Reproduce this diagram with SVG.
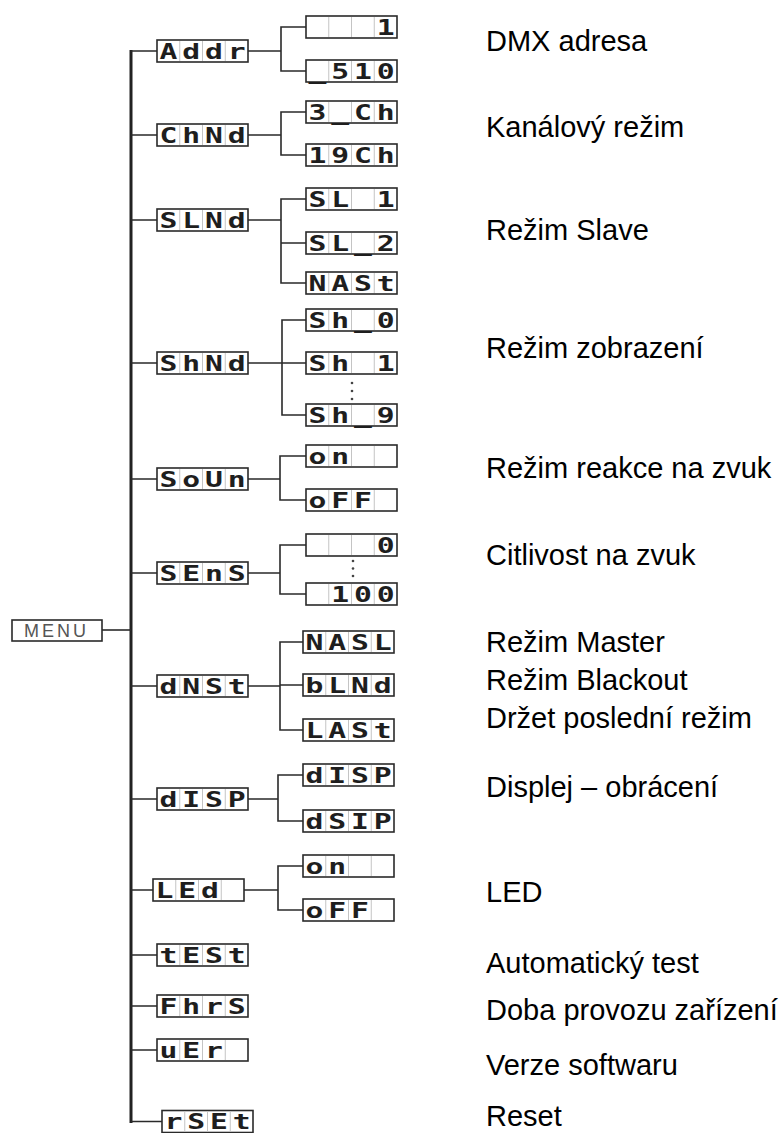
<svg xmlns="http://www.w3.org/2000/svg" xmlns:xlink="http://www.w3.org/1999/xlink" width="782" height="1133" viewBox="0 0 782 1133">
<style>
.box{fill:#fff;stroke:#2a2a2a;stroke-width:1.6}
.dv{stroke:#c4c4c4;stroke-width:1}
.seg{font-family:"DejaVu Sans Mono","Liberation Mono",monospace;font-weight:bold;font-size:22px;fill:#1e1e1e;text-anchor:middle}
.desc{font-family:"Liberation Sans",Arial,sans-serif;font-size:29px;fill:#000}
.menu{font-family:"Liberation Sans",Arial,sans-serif;font-size:18px;fill:#555;letter-spacing:3px}
.w{stroke:#2a2a2a;stroke-width:1.6;fill:none}
.bus{stroke:#222;stroke-width:3;fill:none}
.dot{fill:#444}
</style>
<defs>
<g id="cell4">
<rect class="box" x="0" y="-11" width="91" height="22"/>
<line class="dv" x1="22.75" y1="-10" x2="22.75" y2="10"/>
<line class="dv" x1="45.5" y1="-10" x2="45.5" y2="10"/>
<line class="dv" x1="68.25" y1="-10" x2="68.25" y2="10"/>
</g>
</defs>
<rect width="782" height="1133" fill="#fff"/>

<g id="connectors">
<line class="bus" x1="131" y1="50" x2="131" y2="1123"/>
<path class="w" d="M102 630H131"/>
<path class="w" d="M131 51H157M131 135H157M131 220H157M131 363H157M131 479H157M131 573H157M131 686H157M131 799H157M131 890H153M131 955H157M131 1006H157M131 1050H157M131 1121.5H162"/>
<path class="w" d="M248 51H281M306 27H281V71H306"/>
<path class="w" d="M248 135H281M306 112H281V155H306"/>
<path class="w" d="M248 220H281M306 199H281V283H306M281 243H306"/>
<path class="w" d="M248 363H282M306 320H282V415H306M282 363H306"/>
<path class="w" d="M248 479H280M306 456H280V500H306"/>
<path class="w" d="M248 573H280M306 545H280V594H306"/>
<path class="w" d="M248 686H280M303 642H280V730H303M280 685H303"/>
<path class="w" d="M248 799H278M303 775H278V821H303"/>
<path class="w" d="M244 890H278M303 866H278V910H303"/>
</g>

<g id="menu">
<rect class="box" x="12" y="620" width="90" height="21"/>
<text class="menu" x="24" y="637">MENU</text>
</g>

<g id="n-addr"><use xlink:href="#cell4" x="157" y="51"/><text class="seg" transform="matrix(1.35 0 0 1 157 0)" x="8.4 25.3 42.1 59" y="59">Addr</text></g>
<g id="n-chnd"><use xlink:href="#cell4" x="157" y="135"/><text class="seg" transform="matrix(1.35 0 0 1 157 0)" x="8.4 25.3 42.1 59" y="143">ChNd</text></g>
<g id="n-slnd"><use xlink:href="#cell4" x="157" y="220"/><text class="seg" transform="matrix(1.35 0 0 1 157 0)" x="8.4 25.3 42.1 59" y="228">SLNd</text></g>
<g id="n-shnd"><use xlink:href="#cell4" x="157" y="363"/><text class="seg" transform="matrix(1.35 0 0 1 157 0)" x="8.4 25.3 42.1 59" y="371">ShNd</text></g>
<g id="n-soun"><use xlink:href="#cell4" x="157" y="479"/><text class="seg" transform="matrix(1.35 0 0 1 157 0)" x="8.4 25.3 42.1 59" y="487">SoUn</text></g>
<g id="n-sens"><use xlink:href="#cell4" x="157" y="573"/><text class="seg" transform="matrix(1.35 0 0 1 157 0)" x="8.4 25.3 42.1 59" y="581">SEnS</text></g>
<g id="n-dnst"><use xlink:href="#cell4" x="157" y="686"/><text class="seg" transform="matrix(1.35 0 0 1 157 0)" x="8.4 25.3 42.1 59" y="694">dNSt</text></g>
<g id="n-disp"><use xlink:href="#cell4" x="157" y="799"/><text class="seg" transform="matrix(1.35 0 0 1 157 0)" x="8.4 25.3 42.1 59" y="807">dISP</text></g>
<g id="n-led"><use xlink:href="#cell4" x="153" y="890"/><text class="seg" transform="matrix(1.35 0 0 1 153 0)" x="8.4 25.3 42.1" y="898">LEd</text></g>
<g id="n-test"><use xlink:href="#cell4" x="157" y="955"/><text class="seg" transform="matrix(1.35 0 0 1 157 0)" x="8.4 25.3 42.1 59" y="963">tESt</text></g>
<g id="n-fhrs"><use xlink:href="#cell4" x="157" y="1006"/><text class="seg" transform="matrix(1.35 0 0 1 157 0)" x="8.4 25.3 42.1 59" y="1014">FhrS</text></g>
<g id="n-uer"><use xlink:href="#cell4" x="157" y="1050"/><text class="seg" transform="matrix(1.35 0 0 1 157 0)" x="8.4 25.3 42.1" y="1058">uEr</text></g>
<g id="n-rset"><use xlink:href="#cell4" x="162" y="1121.5"/><text class="seg" transform="matrix(1.35 0 0 1 162 0)" x="8.4 25.3 42.1 59" y="1129.5">rSEt</text></g>

<g id="s-addr-1"><use xlink:href="#cell4" x="306" y="27"/><text class="seg" transform="matrix(1.35 0 0 1 306 0)" x="59" y="35">1</text></g>
<g id="s-addr-510"><use xlink:href="#cell4" x="306" y="71"/><text class="seg" transform="matrix(1.35 0 0 1 306 0)" x="8.4 25.3 42.1 59" y="79">_510</text></g>
<g id="s-3ch"><use xlink:href="#cell4" x="306" y="112"/><text class="seg" transform="matrix(1.35 0 0 1 306 0)" x="8.4 25.3 42.1 59" y="120">3_Ch</text></g>
<g id="s-19ch"><use xlink:href="#cell4" x="306" y="155"/><text class="seg" transform="matrix(1.35 0 0 1 306 0)" x="8.4 25.3 42.1 59" y="163">19Ch</text></g>
<g id="s-sl1"><use xlink:href="#cell4" x="306" y="199"/><text class="seg" transform="matrix(1.35 0 0 1 306 0)" x="8.4 25.3 59" y="207">SL1</text></g>
<g id="s-sl2"><use xlink:href="#cell4" x="306" y="243"/><text class="seg" transform="matrix(1.35 0 0 1 306 0)" x="8.4 25.3 42.1 59" y="251">SL_2</text></g>
<g id="s-nast"><use xlink:href="#cell4" x="306" y="283"/><text class="seg" transform="matrix(1.35 0 0 1 306 0)" x="8.4 25.3 42.1 59" y="291">NASt</text></g>
<g id="s-sh0"><use xlink:href="#cell4" x="306" y="320"/><text class="seg" transform="matrix(1.35 0 0 1 306 0)" x="8.4 25.3 42.1 59" y="328">Sh_0</text></g>
<g id="s-sh1"><use xlink:href="#cell4" x="306" y="363"/><text class="seg" transform="matrix(1.35 0 0 1 306 0)" x="8.4 25.3 59" y="371">Sh1</text></g>
<g id="s-sh9"><use xlink:href="#cell4" x="306" y="415"/><text class="seg" transform="matrix(1.35 0 0 1 306 0)" x="8.4 25.3 42.1 59" y="423">Sh_9</text></g>
<g id="s-on1"><use xlink:href="#cell4" x="306" y="456"/><text class="seg" transform="matrix(1.35 0 0 1 306 0)" x="8.4 25.3" y="464">on</text></g>
<g id="s-off1"><use xlink:href="#cell4" x="306" y="500"/><text class="seg" transform="matrix(1.35 0 0 1 306 0)" x="8.4 25.3 42.1" y="508">oFF</text></g>
<g id="s-0"><use xlink:href="#cell4" x="306" y="545"/><text class="seg" transform="matrix(1.35 0 0 1 306 0)" x="59" y="553">0</text></g>
<g id="s-100"><use xlink:href="#cell4" x="306" y="594"/><text class="seg" transform="matrix(1.35 0 0 1 306 0)" x="25.3 42.1 59" y="602">100</text></g>
<g id="s-nasl"><use xlink:href="#cell4" x="303" y="642"/><text class="seg" transform="matrix(1.35 0 0 1 303 0)" x="8.4 25.3 42.1 59" y="650">NASL</text></g>
<g id="s-blnd"><use xlink:href="#cell4" x="303" y="685"/><text class="seg" transform="matrix(1.35 0 0 1 303 0)" x="8.4 25.3 42.1 59" y="693">bLNd</text></g>
<g id="s-last"><use xlink:href="#cell4" x="303" y="730"/><text class="seg" transform="matrix(1.35 0 0 1 303 0)" x="8.4 25.3 42.1 59" y="738">LASt</text></g>
<g id="s-disp"><use xlink:href="#cell4" x="303" y="775"/><text class="seg" transform="matrix(1.35 0 0 1 303 0)" x="8.4 25.3 42.1 59" y="783">dISP</text></g>
<g id="s-dsip"><use xlink:href="#cell4" x="303" y="821"/><text class="seg" transform="matrix(1.35 0 0 1 303 0)" x="8.4 25.3 42.1 59" y="829">dSIP</text></g>
<g id="s-on2"><use xlink:href="#cell4" x="303" y="866"/><text class="seg" transform="matrix(1.35 0 0 1 303 0)" x="8.4 25.3" y="874">on</text></g>
<g id="s-off2"><use xlink:href="#cell4" x="303" y="910"/><text class="seg" transform="matrix(1.35 0 0 1 303 0)" x="8.4 25.3 42.1" y="918">oFF</text></g>

<g id="dots">
<circle class="dot" cx="352" cy="383" r="1.3"/><circle class="dot" cx="352" cy="391" r="1.3"/><circle class="dot" cx="352" cy="399" r="1.3"/>
<circle class="dot" cx="353" cy="561" r="1.3"/><circle class="dot" cx="353" cy="568.5" r="1.3"/><circle class="dot" cx="353" cy="576" r="1.3"/>
</g>

<g id="labels">
<text class="desc" x="486" y="51">DMX adresa</text>
<text class="desc" x="486" y="137">Kanálový režim</text>
<text class="desc" x="486" y="240">Režim Slave</text>
<text class="desc" x="486" y="358">Režim zobrazení</text>
<text class="desc" x="486" y="478">Režim reakce na zvuk</text>
<text class="desc" x="486" y="565">Citlivost na zvuk</text>
<text class="desc" x="486" y="652">Režim Master</text>
<text class="desc" x="486" y="690">Režim Blackout</text>
<text class="desc" x="486" y="728">Držet poslední režim</text>
<text class="desc" x="486" y="797">Displej – obrácení</text>
<text class="desc" x="486" y="902">LED</text>
<text class="desc" x="486" y="973">Automatický test</text>
<text class="desc" x="486" y="1020">Doba provozu zařízení</text>
<text class="desc" x="486" y="1075">Verze softwaru</text>
<text class="desc" x="486" y="1126">Reset</text>
</g>
</svg>
